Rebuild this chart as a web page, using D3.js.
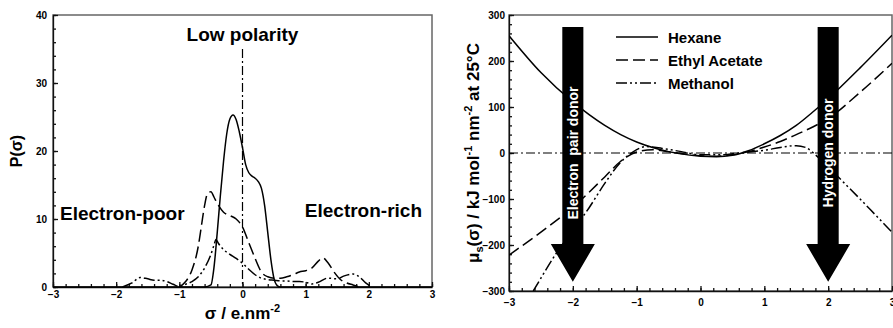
<!DOCTYPE html>
<meta charset="utf-8">
<style>
body { margin: 0; background: #fff; }
text { font-family: 'Liberation Sans', Arial, sans-serif; font-weight: bold; fill: #000; }
.tick text { font-size: 10px; }
.axis path, .axis line { stroke: #111; stroke-width: 1.3; }
.frame { fill: none; stroke: #666; stroke-width: 1.5; }
.curve { fill: none; stroke: #000; stroke-width: 1.5; }
.hexane { }
.ethyl { stroke-dasharray: 12 5; }
.methanol { stroke-dasharray: 11 3 2 3 2 3; }
.ref { fill: none; stroke: #000; stroke-width: 1.2; stroke-dasharray: 9 3 2 3; }
</style>
<svg width="893" height="328"></svg>
<script src="https://d3js.org/d3.v7.min.js"></script>
<script>

// ---- sigma profiles (left) ----
var hexaneSigma = [-3, -0.6, -0.5, -0.45, -0.4, -0.35, -0.3, -0.25, -0.2, -0.15, -0.1, -0.05, 0, 0.05, 0.1, 0.15, 0.2, 0.25, 0.3, 0.35, 0.4, 0.45, 0.5, 0.55, 0.6, 3];
var hexaneP     = [0, 0, 0.3, 3, 8, 13.5, 18.5, 22.5, 24.7, 25.3, 24.6, 22.8, 20.5, 18, 16.8, 16.3, 16, 15.5, 14.5, 12, 8, 4, 1.2, 0.2, 0, 0];

var ethylSigma = [-1.0, -0.9, -0.8, -0.7, -0.65, -0.6, -0.55, -0.5, -0.45, -0.4, -0.3, -0.2, -0.1, 0, 0.1, 0.2, 0.3, 0.4, 0.5, 0.6, 0.7, 0.8, 0.9, 1.0, 1.1, 1.2, 1.27, 1.35, 1.45, 1.55, 1.65, 1.75, 1.85];
var ethylP     = [0, 0.8, 2.5, 6, 9, 12, 13.8, 14, 13.2, 12.3, 11, 10.5, 10, 8.8, 6.5, 4.2, 2.2, 1.5, 1.3, 1.3, 1.5, 1.8, 2.2, 2.4, 2.8, 3.8, 4.3, 3.6, 2.2, 1.1, 0.6, 0.3, 0];

var methSigma = [-1.9, -1.75, -1.62, -1.5, -1.4, -1.3, -1.2, -1.1, -1.0, -0.9, -0.8, -0.7, -0.6, -0.5, -0.45, -0.42, -0.38, -0.3, -0.2, -0.1, 0, 0.1, 0.2, 0.3, 0.4, 0.5, 0.6, 0.7, 0.8, 0.9, 1.0, 1.1, 1.2, 1.35, 1.5, 1.6, 1.75, 1.85, 1.95, 2.05];
var methP     = [0, 0.6, 1.4, 1.2, 1.0, 1.0, 0.8, 0.4, 0.05, 0.4, 0.8, 1.5, 2.8, 4.8, 6.2, 7.0, 6.4, 5.5, 4.8, 4.2, 3.5, 2.6, 1.8, 1.3, 1.1, 1.0, 0.9, 0.9, 0.8, 0.8, 0.7, 0.45, 0.7, 1.3, 1.2, 1.6, 1.9, 1.5, 0.6, 0];

// ---- sigma potentials (right) ----
var potSigma   = [-3, -2.5, -2, -1.5, -1.25, -1, -0.75, -0.5, -0.25, 0, 0.25, 0.5, 0.75, 1, 1.25, 1.5, 1.75, 2, 2.5, 3];
var hexaneMu   = [255, 175, 111, 60, 40, 24, 12, 3, -3, -7, -8, -5, 5, 20, 38, 60, 88, 118, 185, 256];
var ethylMu    = [-222, -172, -118, -52, -18, 2, 7, 3, -2, -6, -7, -4, 3, 13, 25, 40, 56, 75, 132, 195];
var methSigmaR = [-2.62, -2.5, -2.25, -2, -1.75, -1.5, -1.25, -1.05, -0.85, -0.6, -0.3, 0, 0.3, 0.6, 1, 1.25, 1.5, 1.65, 1.8, 2, 2.25, 2.5, 2.75, 3];
var methMu     = [-300, -272, -216, -168, -120, -66, -20, 3, 14, 10, 3, -4, -4, 0, 6, 12, 16, 12, -4, -30, -65, -100, -136, -172];

var legendNames = ["Hexane", "Ethyl Acetate", "Methanol"];
var seriesClass = ["hexane", "ethyl", "methanol"];
var leftYTicks = [0, 10, 20, 30, 40];
var rightYTicks = [-300, -200, -100, 0, 100, 200, 300];
var xTicks = [-3, -2, -1, 0, 1, 2, 3];

var svg = d3.select("svg");

function zip(xs, ys) { return xs.map(function(x, i) { return [x, ys[i]]; }); }

function minorTicks(lo, hi, step) {
  var out = [];
  for (var v = lo; v <= hi + 1e-9; v += step) out.push(+v.toFixed(4));
  return out;
}

// ================= left chart =================
var L = {left: 53, top: 15, width: 379, height: 272};
var gL = svg.append("g").attr("transform", "translate(" + L.left + "," + L.top + ")");

var xL = d3.scaleLinear().domain([-3, 3]).range([0, L.width]);
var yL = d3.scaleLinear().domain([0, 40]).range([L.height, 0]);

gL.append("rect").attr("class", "frame").attr("width", L.width).attr("height", L.height);

gL.append("g").attr("class", "axis")
    .attr("transform", "translate(0," + L.height + ")")
    .call(d3.axisBottom(xL).tickValues(minorTicks(-3, 3, 0.2)).tickSize(-3).tickFormat(""))
    .call(function(g) { g.select(".domain").remove(); });
gL.append("g").attr("class", "axis")
    .attr("transform", "translate(0," + L.height + ")")
    .call(d3.axisBottom(xL).tickValues(xTicks).tickSizeInner(-5).tickSizeOuter(0).tickPadding(4).tickFormat(d3.format("d")));

gL.append("g").attr("class", "axis")
    .call(d3.axisLeft(yL).tickValues(minorTicks(0, 40, 2)).tickSize(-3).tickFormat(""))
    .call(function(g) { g.select(".domain").remove(); });
gL.append("g").attr("class", "axis")
    .call(d3.axisLeft(yL).tickValues(leftYTicks).tickSizeInner(-5).tickSizeOuter(0).tickPadding(6));

// reference line at sigma = 0
gL.append("line").attr("class", "ref")
    .attr("x1", xL(0)).attr("x2", xL(0))
    .attr("y1", yL(35)).attr("y2", yL(0));

var lineL = d3.line().x(function(d) { return xL(d[0]); }).y(function(d) { return yL(d[1]); })
    .curve(d3.curveMonotoneX);

var leftSeries = [zip(hexaneSigma, hexaneP), zip(ethylSigma, ethylP), zip(methSigma, methP)];
gL.selectAll(".curveL").data(leftSeries).enter().append("path")
    .attr("class", function(d, i) { return "curve curveL " + seriesClass[i]; })
    .attr("d", lineL);

gL.append("text").attr("x", xL(0)).attr("y", 26).attr("text-anchor", "middle")
    .style("font-size", "19px").text("Low polarity");
gL.append("text").attr("x", 7).attr("y", 205).style("font-size", "19px").text("Electron-poor");
gL.append("text").attr("x", L.width - 10).attr("y", 202).attr("text-anchor", "end")
    .style("font-size", "19px").text("Electron-rich");

svg.append("text").attr("transform", "translate(22," + (L.top + L.height / 2) + ") rotate(-90)")
    .attr("text-anchor", "middle").style("font-size", "16px").text("P(σ)");

var xtL = svg.append("text").attr("x", L.left + xL(0)).attr("y", 319).attr("text-anchor", "middle")
    .style("font-size", "17px");
xtL.append("tspan").text("σ / e.nm");
xtL.append("tspan").attr("dy", -7).style("font-size", "11px").text("-2");

// ================= right chart =================
var R = {left: 509, top: 15, width: 383, height: 276};
var gR = svg.append("g").attr("transform", "translate(" + R.left + "," + R.top + ")");

var xR = d3.scaleLinear().domain([-3, 3]).range([0, R.width]);
var yR = d3.scaleLinear().domain([-300, 300]).range([R.height, 0]);

gR.append("clipPath").attr("id", "clipR").append("rect")
    .attr("width", R.width).attr("height", R.height);

gR.append("rect").attr("class", "frame").attr("width", R.width).attr("height", R.height);

gR.append("g").attr("class", "axis")
    .attr("transform", "translate(0," + R.height + ")")
    .call(d3.axisBottom(xR).tickValues(minorTicks(-3, 3, 0.2)).tickSize(-3).tickFormat(""))
    .call(function(g) { g.select(".domain").remove(); });
gR.append("g").attr("class", "axis")
    .attr("transform", "translate(0," + R.height + ")")
    .call(d3.axisBottom(xR).tickValues(xTicks).tickSizeInner(-5).tickSizeOuter(0).tickPadding(8).tickFormat(d3.format("d")));

gR.append("g").attr("class", "axis")
    .call(d3.axisLeft(yR).tickValues(minorTicks(-300, 300, 20)).tickSize(-3).tickFormat(""))
    .call(function(g) { g.select(".domain").remove(); });
gR.append("g").attr("class", "axis")
    .call(d3.axisLeft(yR).tickValues(rightYTicks).tickSizeInner(-5).tickSizeOuter(0).tickPadding(4));

gR.append("line").attr("class", "ref")
    .attr("x1", 0).attr("x2", R.width)
    .attr("y1", yR(0)).attr("y2", yR(0));

var lineR = d3.line().x(function(d) { return xR(d[0]); }).y(function(d) { return yR(d[1]); })
    .curve(d3.curveMonotoneX);

var rightSeries = [zip(potSigma, hexaneMu), zip(potSigma, ethylMu), zip(methSigmaR, methMu)];
gR.append("g").attr("clip-path", "url(#clipR)")
  .selectAll(".curveR").data(rightSeries).enter().append("path")
    .attr("class", function(d, i) { return "curve curveR " + seriesClass[i]; })
    .attr("d", lineR);

// legend
var legend = gR.selectAll(".legend").data(legendNames).enter().append("g")
    .attr("class", "legend")
    .attr("transform", function(d, i) { return "translate(107," + (22 + i * 23) + ")"; });
legend.append("line")
    .attr("class", function(d, i) { return "curve " + seriesClass[i]; })
    .attr("x1", 0).attr("x2", 42);
legend.append("text").attr("x", 52).attr("y", 5.5).style("font-size", "15px")
    .text(function(d) { return d; });

// arrows
var arrows = [{x: -2, label: "Electron  pair donor"}, {x: 2, label: "Hydrogen donor"}];
var shaftHalf = 0.165, headHalf = 0.345, arrowTop = 274, headStart = -198, tip = -280;
var arrowG = gR.selectAll(".arrow").data(arrows).enter().append("g").attr("class", "arrow");
arrowG.append("path")
    .attr("d", function(d) {
      var pts = [[d.x - shaftHalf, arrowTop], [d.x + shaftHalf, arrowTop], [d.x + shaftHalf, headStart],
                 [d.x + headHalf, headStart], [d.x, tip], [d.x - headHalf, headStart], [d.x - shaftHalf, headStart]];
      return "M" + pts.map(function(p) { return xR(p[0]) + "," + yR(p[1]); }).join("L") + "Z";
    })
    .attr("fill", "#000");
arrowG.append("text")
    .attr("transform", function(d) { return "translate(" + xR(d.x) + "," + yR(0) + ") rotate(-90)"; })
    .attr("text-anchor", "middle").attr("dy", "0.36em")
    .style("font-size", "14px").style("fill", "#fff").style("white-space", "pre")
    .text(function(d) { return d.label; });

var ytR = svg.append("text")
    .attr("transform", "translate(479," + (R.top + R.height / 2) + ") rotate(-90)")
    .attr("text-anchor", "middle").style("font-size", "17px");
ytR.append("tspan").text("μ");
ytR.append("tspan").attr("dy", 4).style("font-size", "11px").text("s");
ytR.append("tspan").attr("dy", -4).text("(σ) / kJ mol");
ytR.append("tspan").attr("dy", -7).style("font-size", "11px").text("-1");
ytR.append("tspan").attr("dy", 7).text(" nm");
ytR.append("tspan").attr("dy", -7).style("font-size", "11px").text("-2");
ytR.append("tspan").attr("dy", 7).text(" at 25°C");

</script>
